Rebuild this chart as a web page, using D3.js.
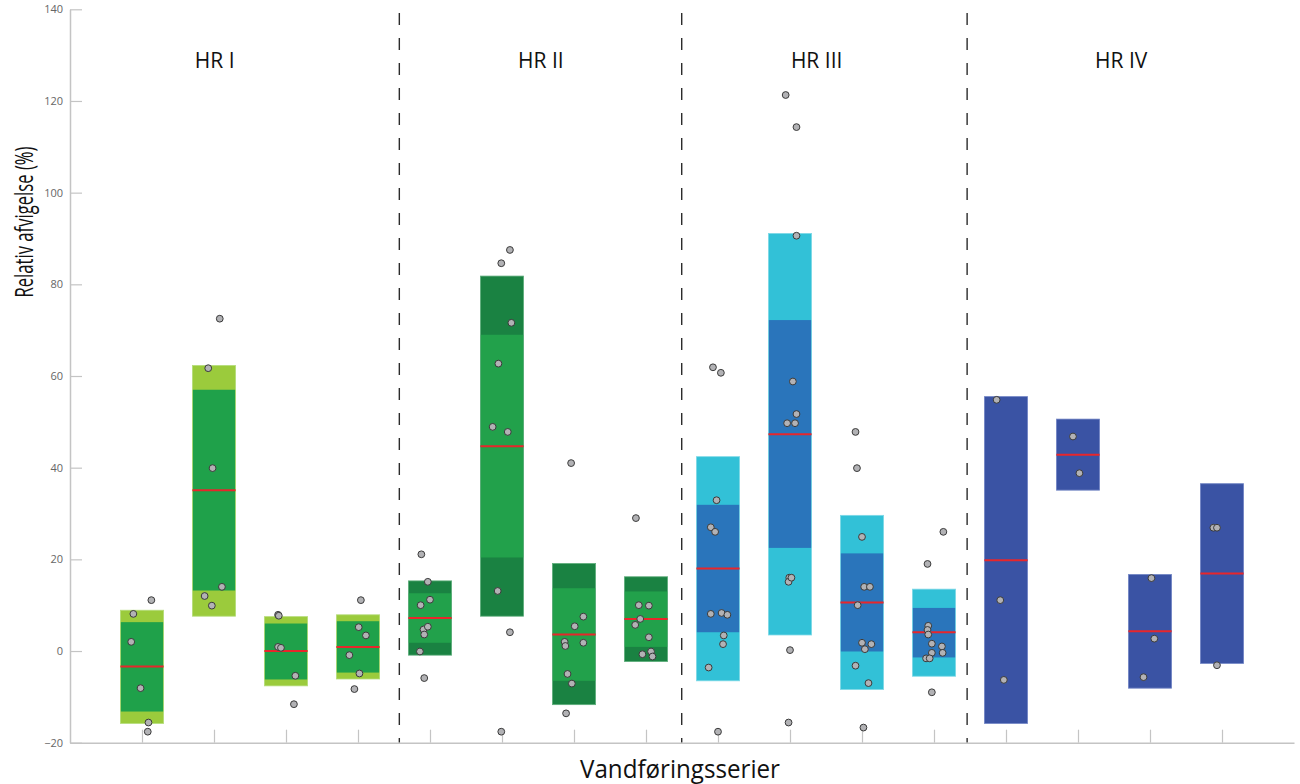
<!DOCTYPE html>
<html>
<head>
<meta charset="utf-8">
<script src="https://cdn.jsdelivr.net/npm/d3@7"></script>
<style>
  html, body { margin: 0; padding: 0; background: #fff; }
  svg { display: block; }
</style>
</head>
<body>
<svg id="chart" width="1300" height="784"></svg>
<script>
// Series 1..16, four per hydrological region
const series = d3.range(1, 17);
const groups = ["HR I", "HR II", "HR III", "HR IV"];
const groupOf = [0,0,0,0, 1,1,1,1, 2,2,2,2, 3,3,3,3];
const groupLabelPos = [2.01, 6.54, 10.37, 14.6];
const separators = [4.574, 8.496, 12.46];
const yTicks = [-20, 0, 20, 40, 60, 80, 100, 120, 140];

// Band limits per series (%)
const outerHi = [8.9, 62.3, 7.5, 7.9, 15.3, 81.8, 19.1, 16.2, 42.4, 91.1, 29.6, 13.5, 55.5, 50.6, 16.7, 36.5];
const innerHi = [6.3, 57.0, 6.0, 6.5, 12.6, 69.0, 13.7, 13.0, 31.9, 72.2, 21.3, 9.4, 55.5, 50.6, 16.7, 36.5];
const median  = [-3.4, 35.1, 0.0, 0.9, 7.2, 44.7, 3.6, 7.0, 18.0, 47.3, 10.6, 4.1, 19.8, 42.8, 4.3, 16.9];
const innerLo = [-13.2, 13.2, -6.2, -4.7, 1.8, 20.4, -6.5, 0.9, 4.1, 22.5, -0.1, -1.4, -15.8, 35.1, -8.1, -2.7];
const outerLo = [-15.8, 7.6, -7.6, -6.1, -0.9, 7.6, -11.7, -2.3, -6.5, 3.5, -8.4, -5.5, -15.8, 35.1, -8.1, -2.7];

// Individual deviations per series (%)
const obs = [
  [11.1, 8.1, 2.0, -8.1, -15.6, -17.6],
  [72.5, 61.7, 39.9, 14.0, 12.0, 9.9],
  [7.9, 7.7, 0.9, 0.7, -5.4, -11.6],
  [11.1, 5.2, 3.4, -0.9, -4.9, -8.3],
  [21.1, 15.1, 11.2, 10.0, 4.7, 5.3, 3.6, -0.1, -5.9],
  [87.5, 84.6, 71.6, 62.7, 48.9, 47.8, 13.1, 4.1, -17.6],
  [41.0, 7.5, 5.4, 2.0, 1.1, 1.8, -5.0, -7.1, -13.6],
  [29.0, 10.0, 9.9, 7.0, 5.7, 3.0, -0.7, -0.1, -1.2],
  [61.9, 60.7, 32.9, 27.0, 26.0, 8.1, 8.3, 7.9, 3.4, 1.5, -3.6, -17.6],
  [121.3, 114.3, 90.6, 58.8, 51.7, 49.7, 49.7, 16.0, 15.1, 16.0, 0.2, -15.6],
  [47.8, 39.9, 24.9, 14.0, 14.0, 10.0, 1.8, 1.5, 0.4, -3.2, -7.0, -16.7],
  [26.0, 19.0, 5.5, 4.6, 3.6, 1.6, 1.0, -0.4, -0.4, -1.6, -1.6, -9.0],
  [54.8, 11.1, -6.3],
  [46.8, 38.8],
  [15.9, 2.7, -5.7],
  [26.9, 26.9, -3.1]
];
// Horizontal jitter of each observation (in series units)
const jitter = [
  [0.13, -0.12, -0.15, -0.02, 0.09, 0.08],
  [0.08, -0.08, -0.02, 0.11, -0.13, -0.03],
  [-0.11, -0.10, -0.11, -0.07, 0.13, 0.11],
  [0.04, 0.01, 0.11, -0.12, 0.02, -0.05],
  [-0.12, -0.03, 0.0, -0.13, -0.09, -0.03, -0.08, -0.14, -0.08],
  [0.11, -0.01, 0.13, -0.05, -0.13, 0.08, -0.06, 0.11, -0.01],
  [-0.04, 0.13, 0.01, -0.13, -0.12, 0.13, -0.09, -0.03, -0.11],
  [-0.14, -0.10, 0.04, -0.08, -0.15, 0.04, -0.05, 0.07, 0.09],
  [-0.07, 0.04, -0.02, -0.10, -0.04, -0.10, 0.05, 0.13, 0.08, 0.07, -0.13, 0.0],
  [-0.06, 0.09, 0.09, 0.04, 0.09, -0.04, 0.07, -0.01, -0.02, 0.02, 0.0, -0.02],
  [-0.09, -0.07, 0.0, 0.03, 0.11, -0.06, 0.0, 0.13, 0.04, -0.09, 0.09, 0.02],
  [0.13, -0.09, -0.08, -0.09, -0.08, -0.03, 0.11, -0.03, 0.12, -0.11, -0.06, -0.03],
  [-0.13, -0.08, -0.03],
  [-0.07, 0.02],
  [0.02, 0.06, -0.09],
  [-0.12, -0.07, -0.07]
];

const outerColor = ["#9bcb3c", "#1a8242", "#32c1d7", "#3a53a4"];
const innerColor = ["#1fa14a", "#22a14b", "#2a75bb", "#3a53a4"];
const edgeColor  = ["#b5dc7a", "#5fae7c", "#7fd9e7", "#7d8fca"];

const svg = d3.select("#chart");
const x = d3.scaleLinear().domain([0, 17]).range([70, 1294]);
const y = d3.scaleLinear().domain([-20, 140]).range([742.7, 9.3]);
const halfW = 0.3;

// Group separators
svg.append("g").selectAll("line").data(separators).join("line")
  .attr("x1", d => x(d)).attr("x2", d => x(d))
  .attr("y1", 13).attr("y2", y(-20))
  .attr("stroke", "#2b2b2b").attr("stroke-width", 1.4)
  .attr("stroke-dasharray", "12,13");

// Bands
const boxes = svg.append("g").selectAll("g").data(series).join("g");
boxes.append("rect")
  .attr("x", d => x(d - halfW)).attr("width", d => x(d + halfW) - x(d - halfW))
  .attr("y", (d, i) => y(outerHi[i])).attr("height", (d, i) => y(outerLo[i]) - y(outerHi[i]))
  .attr("fill", (d, i) => outerColor[groupOf[i]]);
boxes.append("rect")
  .attr("x", d => x(d - halfW)).attr("width", d => x(d + halfW) - x(d - halfW))
  .attr("y", (d, i) => y(innerHi[i])).attr("height", (d, i) => y(innerLo[i]) - y(innerHi[i]))
  .attr("fill", (d, i) => innerColor[groupOf[i]]);
boxes.append("rect")
  .attr("x", d => x(d - halfW)).attr("width", d => x(d + halfW) - x(d - halfW))
  .attr("y", (d, i) => y(outerHi[i])).attr("height", (d, i) => y(outerLo[i]) - y(outerHi[i]))
  .attr("fill", "none").attr("stroke", (d, i) => edgeColor[groupOf[i]]).attr("stroke-width", 0.8);
boxes.append("line")
  .attr("x1", d => x(d - halfW)).attr("x2", d => x(d + halfW))
  .attr("y1", (d, i) => y(median[i])).attr("y2", (d, i) => y(median[i]))
  .attr("stroke", "#e8262b").attr("stroke-width", 2);

// Axes
const yAxis = d3.axisLeft(y).tickValues(yTicks).tickSizeInner(-12).tickSizeOuter(0).tickPadding(7);
const gy = svg.append("g").attr("transform", `translate(${x(0)},0)`).call(yAxis);
gy.select(".domain").attr("stroke", "#c4c4c4").attr("stroke-width", 1.5);
gy.selectAll(".tick line").attr("stroke", "#c4c4c4").attr("stroke-width", 1.2);
gy.selectAll(".tick text").attr("fill", "#666").attr("font-size", 11)
  .attr("font-family", "'Open Sans', sans-serif");

const xAxis = d3.axisBottom(x).tickValues(series).tickSizeInner(-13).tickSizeOuter(0).tickFormat("");
const gx = svg.append("g").attr("transform", `translate(0,${y(-20)})`).call(xAxis);
gx.select(".domain").attr("stroke", "#c4c4c4").attr("stroke-width", 1.5);
gx.selectAll(".tick line").attr("stroke", "#c4c4c4").attr("stroke-width", 1.2);

// Observations
const pts = [];
obs.forEach((vals, i) => vals.forEach((v, j) => pts.push({ s: series[i], v, dx: jitter[i][j] })));
svg.append("g").selectAll("circle").data(pts).join("circle")
  .attr("cx", d => x(d.s + d.dx)).attr("cy", d => y(d.v)).attr("r", 3.4)
  .attr("fill", "#b2b2b5").attr("stroke", "#3a3a3a").attr("stroke-width", 1);

// Region labels
svg.append("g").selectAll("text").data(groups).join("text")
  .attr("x", (d, i) => x(groupLabelPos[i])).attr("y", 68)
  .attr("text-anchor", "middle")
  .attr("font-family", "'Open Sans', sans-serif").attr("font-size", 21)
  .attr("fill", "#111").text(d => d);

// Axis titles
svg.append("text")
  .attr("transform", "translate(33,222) rotate(-90)")
  .attr("text-anchor", "middle")
  .attr("font-family", "'Open Sans', sans-serif").attr("font-size", 25)
  .attr("textLength", 151).attr("lengthAdjust", "spacingAndGlyphs")
  .attr("fill", "#111").text("Relativ afvigelse (%)");

svg.append("text")
  .attr("x", 680).attr("y", 778)
  .attr("text-anchor", "middle")
  .attr("font-family", "'Open Sans', sans-serif").attr("font-size", 25)
  .attr("textLength", 200).attr("lengthAdjust", "spacingAndGlyphs")
  .attr("fill", "#111").text("Vandføringsserier");
</script>
</body>
</html>
